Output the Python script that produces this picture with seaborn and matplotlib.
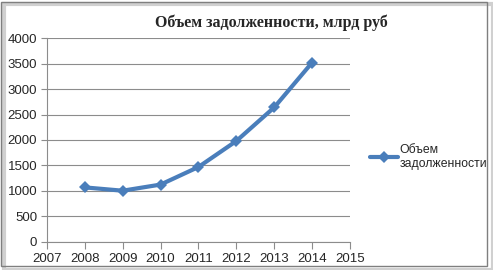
#!/usr/bin/env python3

import matplotlib
matplotlib.use("Agg")
import matplotlib.pyplot as plt
from matplotlib.patches import Rectangle
import pandas
import seaborn as sns

years = [2008, 2009, 2010, 2011, 2012, 2013, 2014]
debt = [1070, 1005, 1125, 1470, 1980, 2640, 3520]
series_name = "Объем\nзадолженности"
title = "Объем задолженности, млрд руб"

sns.set_theme(style="white")
plt.rcParams["font.family"] = ["Liberation Sans", "DejaVu Sans"]

df = pandas.DataFrame({"year": years, "value": debt})

fig = plt.figure(figsize=(4.93, 2.70), dpi=100)
ax = fig.add_axes([0.095, 0.104, 0.615, 0.755])

sns.lineplot(
    data=df,
    x="year",
    y="value",
    ax=ax,
    color="#4a7ebb",
    linewidth=3.0,
    marker="D",
    markersize=6.5,
    markeredgewidth=0,
    label=series_name,
)

ax.set_xlim(2007, 2015)
ax.set_ylim(0, 4000)
ax.set_xticks(range(2007, 2016))
ax.set_yticks(range(0, 4001, 500))
ax.set_xlabel("")
ax.set_ylabel("")
ax.yaxis.grid(True, color="#8c8c8c", linewidth=0.8)
ax.xaxis.grid(False)
for side in ["top", "right"]:
    ax.spines[side].set_visible(False)
for side in ["left", "bottom"]:
    ax.spines[side].set_color("#8c8c8c")
    ax.spines[side].set_linewidth(0.8)
ax.tick_params(axis="x", direction="out", length=5, width=0.8, color="#8c8c8c",
               labelsize=9.5, pad=3)
ax.tick_params(axis="y", direction="out", length=4, width=0.8, color="#8c8c8c",
               labelsize=9.5, pad=3)
ax.tick_params(bottom=True, left=True)

fig.text(0.55, 0.915, title, ha="center", va="center", fontsize=11.5,
         fontweight="bold", family=["Liberation Serif", "DejaVu Serif"])

leg = ax.legend(loc="center left", bbox_to_anchor=(0.738, 0.42),
                bbox_transform=fig.transFigure, frameon=False, fontsize=8.8,
                handlelength=2.3, handletextpad=0.1, borderpad=0)

# outer chart border with light shadow
fig.patches.append(Rectangle((0.008, 0.0), 0.992, 0.985, transform=fig.transFigure,
                             facecolor="none", edgecolor="#d0d0d0", linewidth=3,
                             zorder=0))
fig.patches.append(Rectangle((0.003, 0.015), 0.985, 0.978, transform=fig.transFigure,
                             facecolor="none", edgecolor="#7f7f7f", linewidth=1,
                             zorder=1))

fig.savefig("out.png", dpi=100)
